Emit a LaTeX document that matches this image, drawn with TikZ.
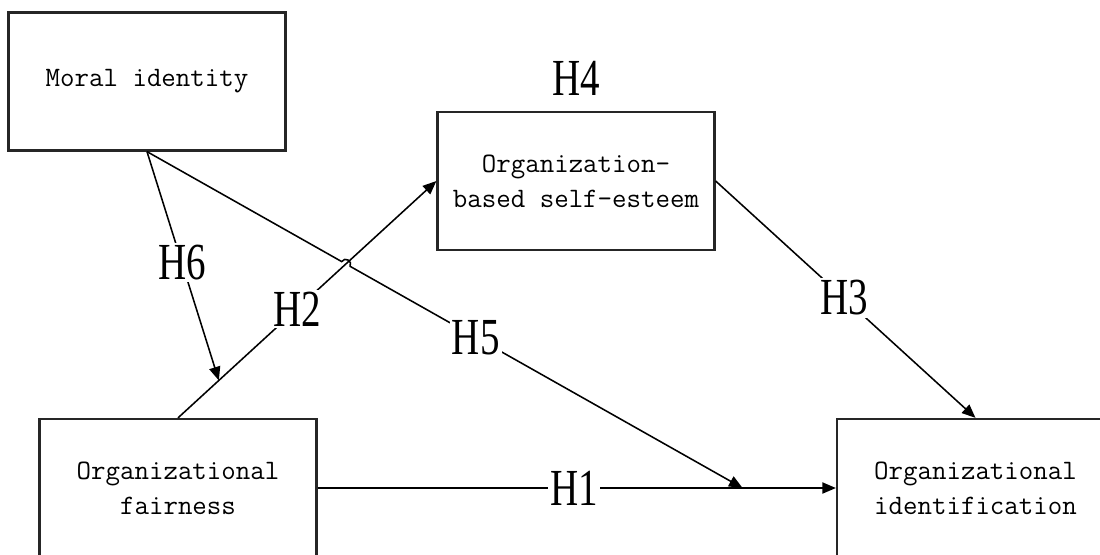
\documentclass[tikz,border=0pt]{standalone}
\usepackage{fontspec}
\newfontfamily\hfont[FakeStretch=0.75]{Liberation Serif}
\usetikzlibrary{arrows.meta,calc}
\begin{document}
\begin{tikzpicture}[x=0.25mm,y=-0.25mm,
  box/.style={draw=black!85, line width=1.6pt, minimum width=69.25mm, minimum height=34.5mm,
    align=center, inner sep=0pt, font=\ttfamily\fontsize{20}{25}\selectfont},
  conn/.style={line width=1.1pt, -{Triangle[length=3.4mm,width=2.8mm]}},
  lab/.style={font=\hfont\fontsize{37}{37}\selectfont, fill=white, inner sep=1.5pt}
]
\useasboundingbox (0,0) rectangle (1100,554);
\clip (0,0) rectangle (1100,554);
\node[box] (moral) at (147,81.5) {Moral identity};
\node[box] (obse) at (576,181) {Organization-\\based self-esteem};
\node[box] (fair) at (178,488) {Organizational\\fairness};
\node[box] (ident) at (975.5,488) {Organizational\\identification};
\node[lab, fill=none] (h4) at ($(obse.north)+(0,-32)$) {H4};

\coordinate (h6end) at ($(fair.north)!0.158!(obse.west)$);
\coordinate (h5end) at ($(fair.east)!0.82!(ident.west)$);

\draw[conn] (fair.east) -- node[lab, pos=0.495] {H1} (ident.west);
\draw[conn] (fair.north) -- node[lab, pos=0.46] {H2} (obse.west);
\draw[conn] (obse.east) -- node[lab, pos=0.494] {H3} (ident.north);
\draw[conn] (moral.south) -- node[lab, pos=0.486] {H6} (h6end);

\coordinate (X) at (intersection of moral.south--h5end and fair.north--obse.west);
\coordinate (A) at ($(X)!1.2mm!(moral.south)$);
\coordinate (B) at ($(X)!1.2mm!(h5end)$);
\draw[conn] (moral.south) -- (A) .. controls ($(A)!1.5mm!90:(X)$) and ($(B)!1.5mm!-90:(X)$) .. (B)
  -- node[lab, pos=0.32] {H5} (h5end);
\end{tikzpicture}
\end{document}
